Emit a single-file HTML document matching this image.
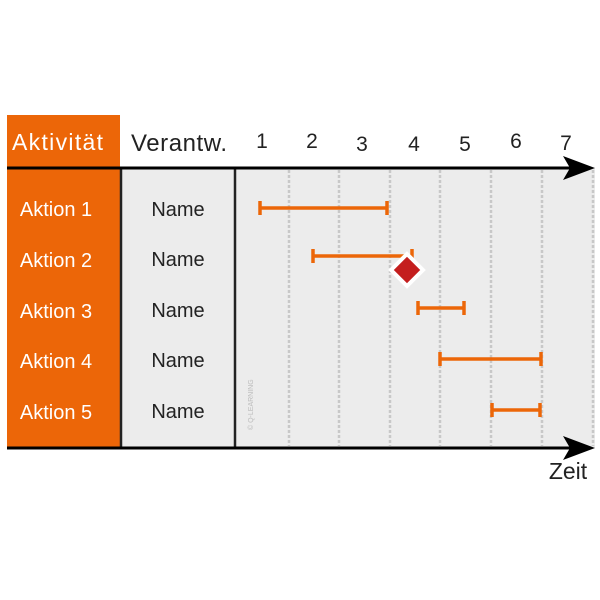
<!DOCTYPE html>
<html><head><meta charset="utf-8"><style>
html,body{margin:0;padding:0;background:#fff;width:600px;height:600px;overflow:hidden}
svg{display:block}
text{font-family:"Liberation Sans","DejaVu Sans",sans-serif}
</style></head><body>
<svg width="600" height="600" viewBox="0 0 600 600" xmlns="http://www.w3.org/2000/svg">
<rect x="7" y="115" width="113" height="333" fill="#ec6608"/>
<rect x="120" y="168" width="475" height="280" fill="#ececec"/>
<g stroke="#c8c8c8" stroke-width="2.5" stroke-dasharray="3,2">
<line x1="289" y1="170" x2="289" y2="446"/>
<line x1="339" y1="170" x2="339" y2="446"/>
<line x1="390" y1="170" x2="390" y2="446"/>
<line x1="440" y1="170" x2="440" y2="446"/>
<line x1="491" y1="170" x2="491" y2="446"/>
<line x1="542" y1="170" x2="542" y2="446"/>
<line x1="593" y1="170" x2="593" y2="446"/>
</g>
<line x1="121" y1="168" x2="121" y2="448" stroke="#222" stroke-width="2.5"/>
<line x1="235" y1="168" x2="235" y2="448" stroke="#222" stroke-width="2.5"/>
<line x1="7" y1="168" x2="570" y2="168" stroke="#000" stroke-width="3"/>
<polygon points="563,156 595,168 563,180 570,168" fill="#000"/>
<line x1="7" y1="448" x2="570" y2="448" stroke="#000" stroke-width="3"/>
<polygon points="563,436 595,448 563,460 570,448" fill="#000"/>
<text x="12" y="150" font-size="23" fill="#fff" textLength="91">Aktivität</text>
<g font-size="20" fill="#fff" text-anchor="middle">
<text x="56" y="216">Aktion 1</text>
<text x="56" y="267">Aktion 2</text>
<text x="56" y="318">Aktion 3</text>
<text x="56" y="368">Aktion 4</text>
<text x="56" y="419">Aktion 5</text>
</g>
<text x="131" y="151" font-size="24" fill="#222" textLength="96">Verantw.</text>
<g font-size="20" fill="#222" text-anchor="middle">
<text x="178" y="216">Name</text>
<text x="178" y="266">Name</text>
<text x="178" y="317">Name</text>
<text x="178" y="367">Name</text>
<text x="178" y="418">Name</text>
</g>
<g font-size="21" fill="#222" text-anchor="middle">
<text x="262" y="148">1</text>
<text x="312" y="148">2</text>
<text x="362" y="151">3</text>
<text x="414" y="151">4</text>
<text x="465" y="151">5</text>
<text x="516" y="148">6</text>
<text x="566" y="150">7</text>
</g>
<text x="568" y="479" font-size="23" fill="#222" text-anchor="middle">Zeit</text>
<text transform="translate(253,430) rotate(-90)" font-size="7" fill="#bbb">© Q-LEARNING</text>
<g stroke="#ec6608" stroke-width="3.5">
<line x1="260" y1="208" x2="387" y2="208"/><line x1="260" y1="201" x2="260" y2="215"/><line x1="387" y1="201" x2="387" y2="215"/>
<line x1="313" y1="256" x2="412" y2="256"/><line x1="313" y1="249" x2="313" y2="263"/><line x1="412" y1="249" x2="412" y2="263"/>
<line x1="418" y1="308" x2="464" y2="308"/><line x1="418" y1="301" x2="418" y2="315"/><line x1="464" y1="301" x2="464" y2="315"/>
<line x1="440" y1="359" x2="541" y2="359"/><line x1="440" y1="352" x2="440" y2="366"/><line x1="541" y1="352" x2="541" y2="366"/>
<line x1="492" y1="410" x2="540" y2="410"/><line x1="492" y1="403" x2="492" y2="417"/><line x1="540" y1="403" x2="540" y2="417"/>
</g>
<polygon points="407,254 423,270 407,286 391,270" fill="#c41e1e" stroke="#fff" stroke-width="4" stroke-linejoin="miter"/>
</svg>
</body></html>
